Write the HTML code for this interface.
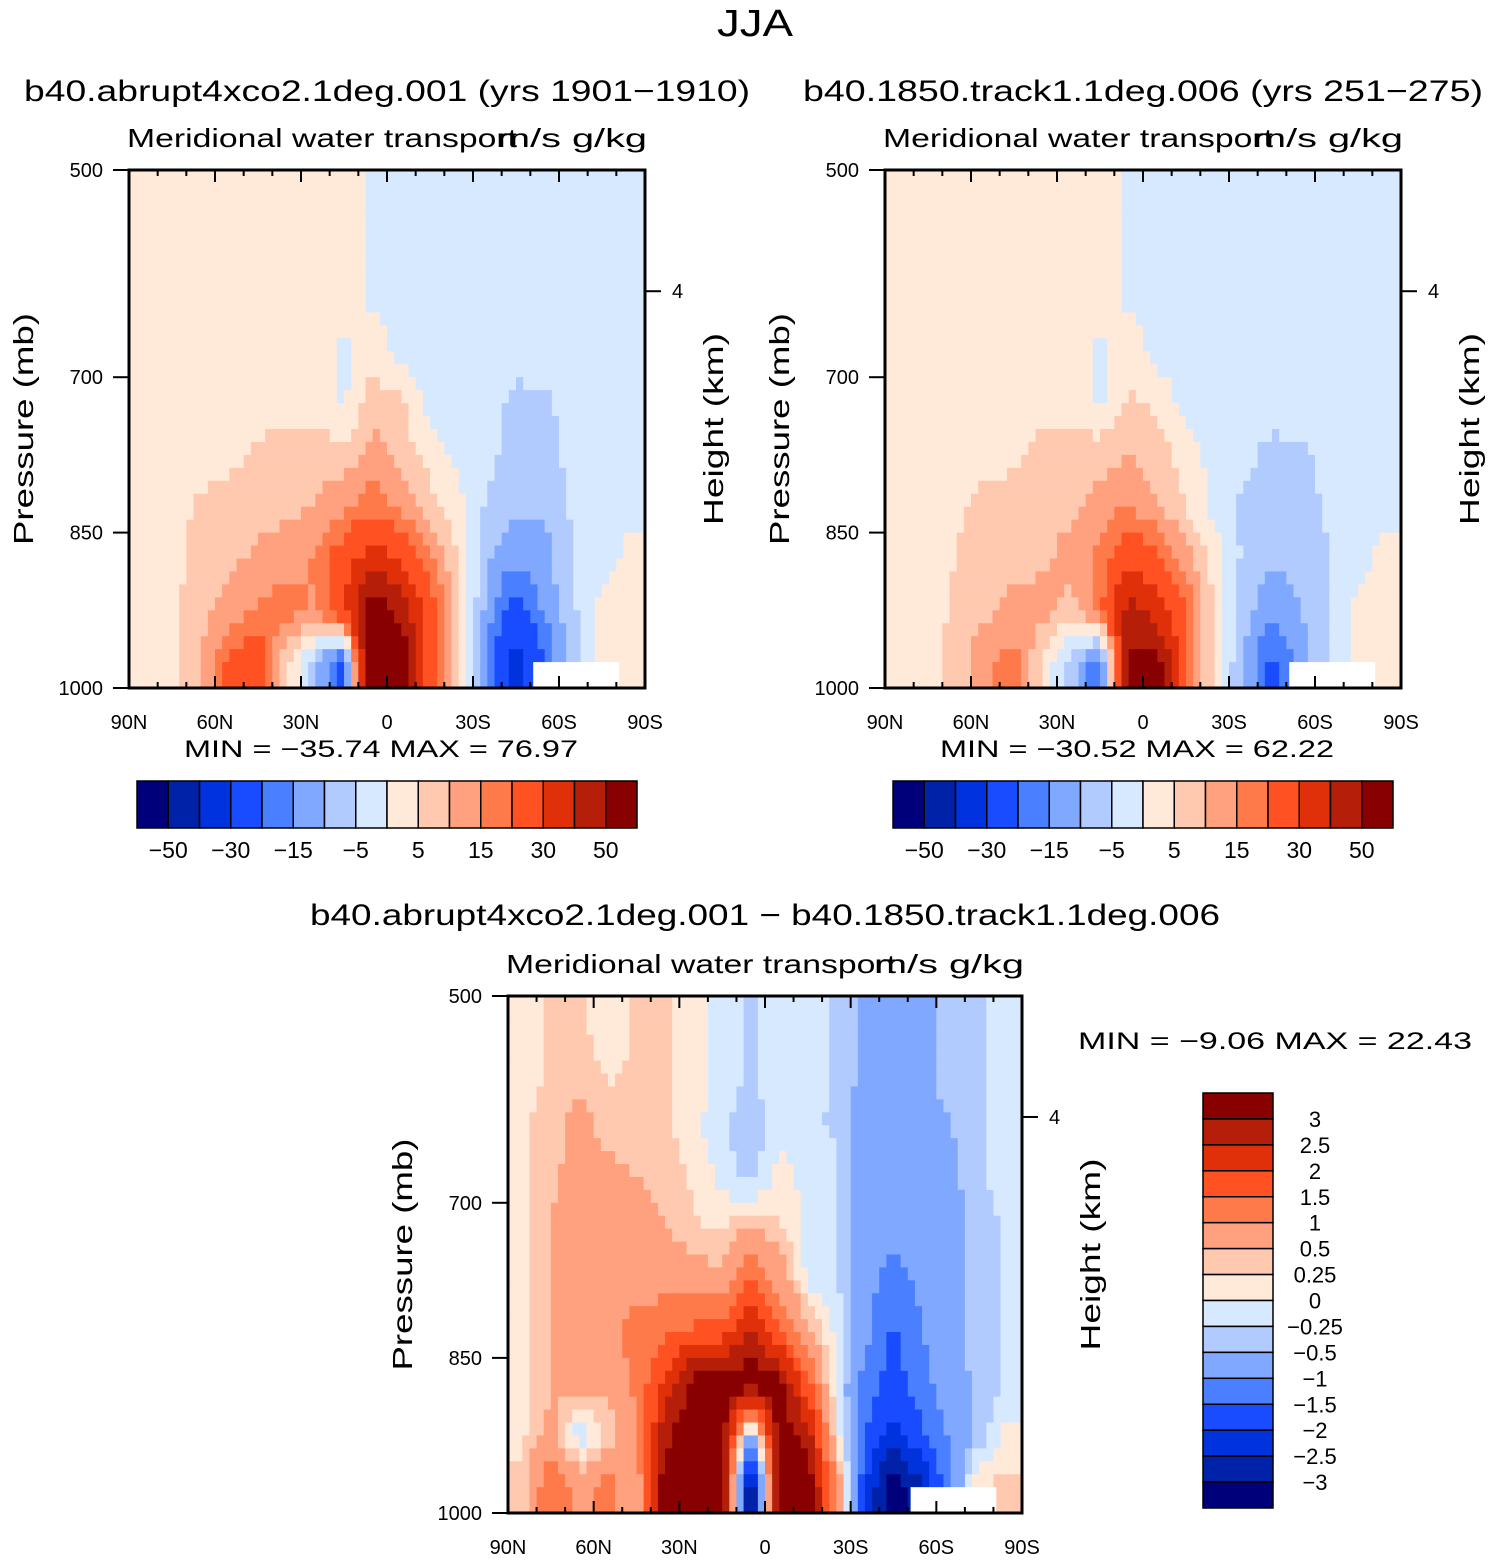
<!DOCTYPE html>
<html><head><meta charset="utf-8"><style>
body{margin:0;background:#fff;}
svg{display:block;font-family:"Liberation Sans",sans-serif;}
</style></head><body>
<svg id="fig" width="1493" height="1561" viewBox="0 0 1493 1561">
<text x="755" y="36" text-anchor="middle" font-size="38" textLength="76" lengthAdjust="spacingAndGlyphs">JJA</text>
</svg>
<script>
// ---- data ----
const lats = [85,75,65,55,45,35,25,15,5,-5,-15,-25,-35,-45,-55,-65,-75,-85];
const levels = [525,575,625,675,725,775,825,875,925,975];
const mainBounds = [-50,-40,-30,-20,-15,-10,-5,0,5,10,15,20,30,40,50];
const mainLabels = ["−50","−30","−15","−5","5","15","30","50"];
const diffBounds = [-3,-2.5,-2,-1.5,-1,-0.5,-0.25,0,0.25,0.5,1,1.5,2,2.5,3];
const diffLabels = ["3","2.5","2","1.5","1","0.5","0.25","0","−0.25","−0.5","−1","−1.5","−2","−2.5","−3"];
const latTicks = ["90N","60N","30N","0","30S","60S","90S"];
const presTicks = [500,700,850,1000];
const palette = ["#00007a","#0022a8","#0033dd","#1a4cff","#4a7fff","#80a8ff","#b1cbff","#d7e9ff","#ffe9d9","#ffc9b0","#ffa17f","#ff7a4a","#ff5122","#e0300a","#b51e08","#880000"];

const field1 = [
[2,2,2,2,2,2,2,2,-1,-2,-2,-2,-2,-2,-2,-2,-2,-2],
[2,2,2,2,2,2,2,2,-1,-2,-2,-2,-2,-2,-2,-2,-2,-2],
[2,2,2,2,2,2,2,2,-1,-2,-2,-2,-2,-2,-2,-2,-2,-2],
[2,2,2,2,2,2,2,-1,3,-2,-2,-2,-2,-2,-2,-2,-2,-2],
[2,2,2,2,2,3,3,-1,8,6,-2,-2,-2,-7,-6,-2,-2,-2],
[2,2,2,3,6,8,8,7,12,8,3,-2,-3,-8,-8,-3,-2,-2],
[2,3,6,8,8,9,10,14,18,14,7,2,-6,-9,-9,-4,-2,-2],
[2,3,7,9,11,12,16,25,35,28,16,4,-9,-14,-12,-5,-3,2],
[2,4,8,12,16,18,14,30,60,45,25,6,-12,-25,-14,-6,2,2],
[2,4,10,22,25,6,-8,-25,75,60,25,3,-15,-35,-20,-8,2,2]];
const field2 = [
[2,2,2,2,2,2,2,2,-1,-2,-2,-2,-2,-2,-2,-2,-2,-2],
[2,2,2,2,2,2,2,2,-1,-2,-2,-2,-2,-2,-2,-2,-2,-2],
[2,2,2,2,2,2,2,2,-1,-2,-2,-2,-2,-2,-2,-2,-2,-2],
[2,2,2,2,2,2,2,-1,3,-2,-2,-2,-2,-2,-2,-2,-2,-2],
[2,2,2,2,2,3,3,-1,6,4,-2,-2,-2,-2,-2,-2,-2,-2],
[2,2,2,3,4,7,8,8,10,7,3,-2,-3,-7,-6,-3,-2,-2],
[2,2,4,7,7,8,9,12,15,10,5,-2,-6,-8,-8,-4,-2,-2],
[2,3,5,8,9,9,12,16,28,22,12,3,-6,-9,-9,-5,-2,2],
[2,3,6,9,11,12,8,18,45,35,20,4,-8,-14,-10,-5,2,2],
[2,3,7,14,18,4,-8,-20,52,55,20,3,-10,-22,-12,-5,2,2]];
const field3 = [
[0.1,0.3,0.3,0.1,0.3,0.3,0.1,-0.1,-0.3,-0.1,-0.1,-0.3,-0.6,-0.6,-0.6,-0.4,-0.3,-0.1],
[0.1,0.3,0.4,0.2,0.3,0.3,0.1,-0.1,-0.3,-0.1,-0.1,-0.3,-0.6,-0.6,-0.6,-0.4,-0.3,-0.1],
[0.2,0.4,0.6,0.4,0.3,0.3,0.1,-0.2,-0.4,-0.1,-0.2,-0.3,-0.7,-0.7,-0.6,-0.5,-0.3,-0.1],
[0.2,0.4,0.7,0.6,0.5,0.4,0.2,-0.1,-0.4,0.1,-0.1,-0.2,-0.7,-0.8,-0.7,-0.6,-0.3,-0.1],
[0.2,0.5,0.8,0.7,0.6,0.5,0.3,0.2,0.6,0.3,-0.1,-0.2,-0.8,-0.8,-0.8,-0.6,-0.4,-0.2],
[0.2,0.5,0.8,0.8,0.8,0.8,0.7,0.6,1.5,0.8,-0.1,-0.2,-0.8,-1.2,-0.9,-0.6,-0.4,-0.2],
[0.2,0.5,0.7,0.9,1.2,1.4,1.6,1.8,2.6,1.6,0.6,-0.1,-0.8,-1.6,-1.0,-0.6,-0.4,-0.2],
[0.2,0.5,0.6,0.6,1.1,2.2,3.2,3.2,3.5,3.2,1.6,-0.1,-1.2,-1.8,-1.2,-0.7,-0.4,-0.2],
[0.2,0.6,-0.2,0.3,1.0,2.8,3.5,3.5,-1.0,3.5,2.8,0.2,-1.5,-2.2,-1.6,-0.9,-0.4,0.1],
[0.3,1.5,0.8,1.2,0.6,3.5,3.5,3.5,-3.5,3.5,3.5,1.0,-2,-3.5,-2.5,-1,0.3,0.3]];

const NS="http://www.w3.org/2000/svg";
const svg=document.getElementById('fig');
function mk(tag,attrs,parent,txt){const e=document.createElementNS(NS,tag);for(const k in attrs)e.setAttribute(k,attrs[k]);if(txt!==undefined)e.textContent=txt;(parent||svg).appendChild(e);return e;}
function colorOf(v,b){let i=0;while(i<b.length&&v>=b[i])i++;return palette[i];}
function sample(f,ci,ri){
  ci=Math.max(0,Math.min(lats.length-1,ci));ri=Math.max(0,Math.min(levels.length-1,ri));
  const c0=Math.floor(ci),r0=Math.floor(ri),c1=Math.min(c0+1,lats.length-1),r1=Math.min(r0+1,levels.length-1);
  const fx=ci-c0,fy=ri-r0;
  return f[r0][c0]*(1-fx)*(1-fy)+f[r0][c1]*fx*(1-fy)+f[r1][c0]*(1-fx)*fy+f[r1][c1]*fx*fy;
}
function panel(cfg){
  const {x0,y0,W,H,field,bounds,name}=cfg;
  const g=mk('g',{},svg);
  
  
  const xs=lat=>x0+(90-lat)/180*W, ys=p=>y0+(p-500)/500*H;
  const S=4, nx=18*S, ny=10*S;
  for(let j=0;j<ny;j++){for(let i=0;i<nx;i++){
    const lat=90-(i+0.5)*180/nx, p=500+(j+0.5)*500/ny;
    const v=sample(field,(85-lat)/10,(p-525)/50);
    const r=mk('rect',{x:xs(90-i*180/nx).toFixed(2),y:ys(500+j*500/ny).toFixed(2),width:(W/nx+0.6).toFixed(2),height:(H/ny+0.6).toFixed(2),fill:colorOf(v,bounds)},g);
    
    
  }}
  // missing data below ground
  const m=mk('rect',{x:xs(-51),y:ys(975),width:xs(-81)-xs(-51),height:ys(1000)-ys(975),fill:'#fff'},g);
  
  
  const fr=mk('rect',{x:x0,y:y0,width:W,height:H,fill:'none',stroke:'#000','stroke-width':3},g);
  
  
  for(let lat=90;lat>=-90;lat-=10){
    const major=lat%30===0, L=major?12:6, x=xs(lat);
    mk('line',{x1:x,y1:y0,x2:x,y2:y0+L,stroke:'#000','stroke-width':2},g);
    mk('line',{x1:x,y1:y0+H,x2:x,y2:y0+H-L,stroke:'#000','stroke-width':2},g);
  }
  latTicks.forEach((t,k)=>{const e=mk('text',{x:xs(90-30*k),y:y0+H+41,'text-anchor':'middle','font-size':20},g,t);
    });
  presTicks.forEach(p=>{const y=ys(p);mk('line',{x1:x0-16,y1:y,x2:x0,y2:y,stroke:'#000','stroke-width':2},g);
    const e=mk('text',{x:x0-26,y:y+7,'text-anchor':'end','font-size':20},g,String(p));
    });
  const yh=ys(617);
  mk('line',{x1:x0+W,y1:yh,x2:x0+W+16,y2:yh,stroke:'#000','stroke-width':2},g);
  mk('text',{x:x0+W+27,y:yh+7,'font-size':20},g,'4');
  let e=mk('text',{transform:`translate(${x0-96},${y0+H/2}) rotate(-90)`,'text-anchor':'middle','font-size':28,textLength:232,lengthAdjust:'spacingAndGlyphs'},g,'Pressure (mb)');
  
  e=mk('text',{transform:`translate(${x0+W+78},${y0+H/2}) rotate(-90)`,'text-anchor':'middle','font-size':28,textLength:192,lengthAdjust:'spacingAndGlyphs'},g,'Height (km)');
  
  e=mk('text',{x:x0-2,y:y0-23,'font-size':26,textLength:390,lengthAdjust:'spacingAndGlyphs'},g,'Meridional water transport');
  
  e=mk('text',{x:x0+W+2,y:y0-23,'text-anchor':'end','font-size':26,textLength:150,lengthAdjust:'spacingAndGlyphs'},g,'m/s g/kg');
  
  e=mk('text',{x:cfg.tx,y:cfg.ty,'text-anchor':'middle','font-size':30,textLength:cfg.tl,lengthAdjust:'spacingAndGlyphs'},g,cfg.title);
  
  e=mk('text',{x:cfg.mx,y:cfg.my,'text-anchor':'middle','font-size':24,'xml:space':'preserve',textLength:cfg.ml,lengthAdjust:'spacingAndGlyphs'},g,cfg.minmax);
  
}
function hbar(x0,y0,name){
  const g=mk('g',{},svg);
  
  
  const w=500/16;
  palette.forEach((c,i)=>{const r=mk('rect',{x:x0+i*w,y:y0,width:w,height:47,fill:c,stroke:'#000','stroke-width':1.5},g);
    });
  mainLabels.forEach((t,k)=>{const e=mk('text',{x:x0+(1+2*k)*w,y:y0+77,'text-anchor':'middle','font-size':23},g,t);
    });
}
panel({x0:129,y0:170,W:516,H:518,field:field1,bounds:mainBounds,name:'abrupt4xco2',title:'b40.abrupt4xco2.1deg.001 (yrs 1901−1910)',tx:387,ty:101,tl:726,minmax:'MIN =  −35.74   MAX =   76.97',mx:381,my:757,ml:394});
panel({x0:885,y0:170,W:516,H:518,field:field2,bounds:mainBounds,name:'control-1850',title:'b40.1850.track1.1deg.006 (yrs 251−275)',tx:1143,ty:101,tl:680,minmax:'MIN =  −30.52   MAX =   62.22',mx:1137,my:757,ml:394});
panel({x0:508,y0:996,W:514,H:517,field:field3,bounds:diffBounds,name:'difference',title:'b40.abrupt4xco2.1deg.001 − b40.1850.track1.1deg.006',tx:765,ty:925,tl:910,minmax:'',mx:765,my:0,ml:1});
hbar(137,781,'colorbar-top-left');
hbar(893,781,'colorbar-top-right');
(function(){
  const g=mk('g',{},svg);
  
  
  const h=415/16;
  palette.slice().reverse().forEach((c,i)=>{const r=mk('rect',{x:1203,y:1093+i*h,width:70,height:h,fill:c,stroke:'#000','stroke-width':1.5},g);
    });
  diffLabels.forEach((t,k)=>{const e=mk('text',{x:1315,y:1093+(k+1)*h+8,'text-anchor':'middle','font-size':22},g,t);
    });
  const e=mk('text',{x:1275,y:1049,'text-anchor':'middle','font-size':24,'xml:space':'preserve',textLength:394,lengthAdjust:'spacingAndGlyphs'},g,'MIN =   −9.06   MAX =   22.43');
  
})();
</script>
</body></html>
